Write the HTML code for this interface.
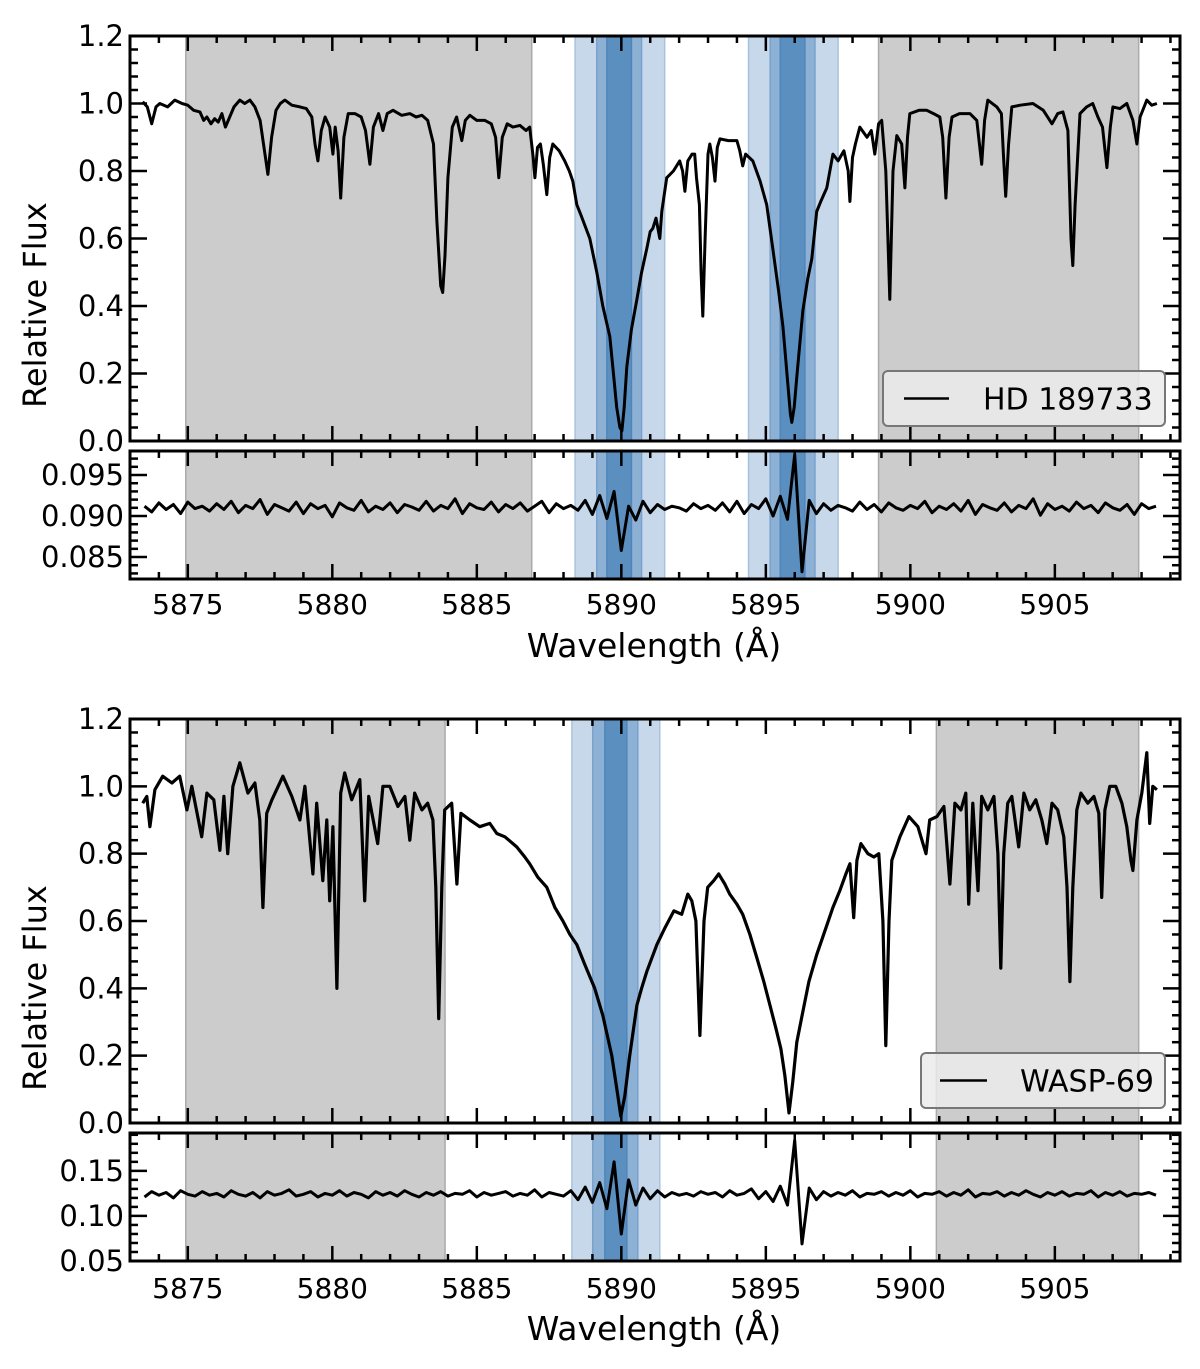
<!DOCTYPE html>
<html><head><meta charset="utf-8"><style>
html,body{margin:0;padding:0;background:#fff;}
svg{display:block;font-family:"DejaVu Sans","Liberation Sans",sans-serif;}
</style></head><body>
<svg id="fig" width="1200" height="1369" viewBox="0 0 1200 1369" xmlns="http://www.w3.org/2000/svg"></svg>
<script>
// ---- data ----
const xTicks = [5875, 5880, 5885, 5890, 5895, 5900, 5905];
const fluxTicks = [0.0, 0.2, 0.4, 0.6, 0.8, 1.0, 1.2];
const res1Ticks = [0.085, 0.090, 0.095];
const res2Ticks = [0.05, 0.10, 0.15];
const grey1 = [[5874.93, 5886.9], [5898.9, 5907.9]];
const grey2 = [[5874.93, 5883.9], [5900.9, 5907.9]];
const blueLight1 = [[5888.4, 5891.5], [5894.4, 5897.5]];
const blueMid1 = [[5889.15, 5890.7], [5895.15, 5896.7]];
const blueDark1 = [[5889.5, 5890.35], [5895.5, 5896.35]];
const blueLight2 = [[5888.29, 5891.33]];
const blueMid2 = [[5889.01, 5890.57]];
const blueDark2 = [[5889.43, 5890.19]];

const wl1 = [5873.44,5873.60,5873.75,5873.90,5874.03,5874.30,5874.55,5874.80,5875.00,5875.20,5875.42,5875.55,5875.66,5875.80,5875.93,5876.05,5876.18,5876.30,5876.45,5876.60,5876.80,5876.97,5877.15,5877.32,5877.50,5877.62,5877.77,5877.90,5878.05,5878.20,5878.36,5878.60,5878.88,5879.10,5879.29,5879.40,5879.50,5879.62,5879.75,5879.91,5880.02,5880.10,5880.20,5880.29,5880.40,5880.55,5880.78,5881.00,5881.15,5881.30,5881.42,5881.60,5881.75,5881.90,5882.10,5882.40,5882.68,5882.90,5883.10,5883.30,5883.50,5883.62,5883.75,5883.82,5883.90,5884.00,5884.15,5884.30,5884.48,5884.60,5884.76,5885.00,5885.28,5885.50,5885.65,5885.76,5885.88,5886.05,5886.25,5886.49,5886.70,5886.83,5886.95,5887.01,5887.10,5887.20,5887.30,5887.42,5887.52,5887.63,5887.85,5888.04,5888.20,5888.32,5888.46,5888.60,5888.91,5889.15,5889.36,5889.60,5889.75,5889.84,5889.95,5890.02,5890.10,5890.19,5890.35,5890.54,5890.70,5890.88,5891.00,5891.09,5891.20,5891.33,5891.40,5891.57,5891.80,5892.02,5892.12,5892.20,5892.30,5892.45,5892.54,5892.60,5892.70,5892.76,5892.82,5892.90,5893.00,5893.06,5893.15,5893.24,5893.32,5893.41,5893.70,5894.00,5894.10,5894.20,5894.30,5894.55,5894.80,5895.03,5895.24,5895.45,5895.59,5895.76,5895.85,5895.90,5895.98,5896.07,5896.28,5896.45,5896.59,5896.76,5896.90,5897.11,5897.32,5897.50,5897.70,5897.85,5897.91,5898.00,5898.10,5898.25,5898.50,5898.65,5898.77,5898.90,5899.01,5899.15,5899.29,5899.40,5899.53,5899.70,5899.81,5899.90,5899.98,5900.30,5900.57,5900.80,5901.02,5901.12,5901.23,5901.34,5901.44,5901.70,5902.06,5902.30,5902.47,5902.57,5902.68,5902.99,5903.15,5903.22,5903.30,5903.40,5903.51,5903.80,5904.24,5904.60,5904.90,5905.10,5905.28,5905.45,5905.56,5905.62,5905.70,5905.87,5906.10,5906.31,5906.49,5906.65,5906.80,5906.92,5907.01,5907.25,5907.49,5907.70,5907.84,5907.95,5908.18,5908.35,5908.53];
const fl1 = [1.005,0.99,0.94,0.99,1.00,0.99,1.01,1.00,0.995,0.98,0.975,0.95,0.96,0.94,0.955,0.945,0.97,0.93,0.96,0.99,1.01,1.00,1.01,0.99,0.95,0.88,0.79,0.90,0.98,1.00,1.01,0.995,0.99,0.985,0.96,0.88,0.83,0.92,0.96,0.93,0.85,0.93,0.86,0.72,0.90,0.97,0.97,0.96,0.92,0.82,0.93,0.97,0.92,0.97,0.98,0.965,0.97,0.96,0.965,0.95,0.88,0.65,0.46,0.44,0.55,0.78,0.93,0.96,0.89,0.95,0.965,0.95,0.95,0.94,0.90,0.78,0.90,0.94,0.93,0.935,0.92,0.93,0.84,0.78,0.87,0.88,0.82,0.73,0.84,0.88,0.86,0.83,0.80,0.77,0.70,0.67,0.60,0.50,0.40,0.31,0.18,0.10,0.04,0.03,0.10,0.22,0.33,0.42,0.50,0.57,0.62,0.63,0.66,0.60,0.68,0.78,0.80,0.83,0.80,0.74,0.83,0.85,0.85,0.78,0.70,0.50,0.37,0.60,0.85,0.88,0.84,0.77,0.87,0.895,0.89,0.89,0.86,0.815,0.85,0.83,0.77,0.70,0.57,0.44,0.34,0.17,0.08,0.055,0.10,0.19,0.385,0.48,0.54,0.68,0.71,0.75,0.85,0.83,0.86,0.80,0.71,0.84,0.88,0.93,0.90,0.92,0.85,0.94,0.95,0.80,0.42,0.80,0.905,0.88,0.75,0.90,0.97,0.98,0.98,0.97,0.96,0.90,0.72,0.90,0.96,0.97,0.97,0.95,0.82,0.95,1.01,0.99,0.97,0.85,0.725,0.88,0.99,0.995,1.00,0.98,0.94,0.97,0.975,0.92,0.60,0.52,0.70,0.97,0.99,1.00,0.96,0.93,0.81,0.93,0.99,0.985,1.00,0.95,0.88,0.96,1.01,0.995,1.00];

const wl2 = [5873.44,5873.58,5873.69,5873.86,5874.13,5874.45,5874.72,5874.97,5875.14,5875.48,5875.66,5875.90,5876.11,5876.25,5876.38,5876.56,5876.80,5877.08,5877.32,5877.49,5877.60,5877.73,5877.91,5878.29,5878.60,5878.88,5879.05,5879.33,5879.46,5879.67,5879.81,5879.91,5880.02,5880.16,5880.29,5880.43,5880.67,5880.95,5881.12,5881.26,5881.57,5881.75,5881.99,5882.27,5882.51,5882.68,5882.85,5883.10,5883.30,5883.48,5883.58,5883.68,5883.79,5883.89,5884.13,5884.31,5884.45,5884.76,5885.10,5885.45,5885.69,5885.97,5886.38,5886.66,5886.83,5887.11,5887.42,5887.70,5887.98,5888.22,5888.46,5888.74,5889.08,5889.36,5889.67,5889.88,5889.98,5890.12,5890.29,5890.54,5890.70,5890.88,5891.23,5891.51,5891.82,5892.09,5892.30,5892.44,5892.58,5892.72,5892.86,5892.99,5893.20,5893.37,5893.58,5893.75,5894.00,5894.20,5894.45,5894.69,5894.93,5895.17,5895.35,5895.52,5895.66,5895.80,5895.93,5896.07,5896.28,5896.49,5896.76,5897.08,5897.32,5897.56,5897.77,5897.91,5898.04,5898.15,5898.29,5898.53,5898.74,5898.91,5899.05,5899.15,5899.26,5899.36,5899.64,5899.95,5900.26,5900.54,5900.67,5900.92,5901.16,5901.37,5901.54,5901.75,5901.92,5902.02,5902.16,5902.34,5902.47,5902.68,5902.89,5903.03,5903.13,5903.23,5903.37,5903.51,5903.75,5903.93,5904.13,5904.34,5904.55,5904.72,5904.90,5905.10,5905.31,5905.42,5905.52,5905.62,5905.76,5905.90,5906.14,5906.35,5906.52,5906.62,5906.73,5906.90,5907.11,5907.32,5907.49,5907.63,5907.70,5907.84,5908.01,5908.18,5908.28,5908.39,5908.53];
const fl2 = [0.95,0.97,0.88,0.99,1.03,1.01,1.03,0.93,1.00,0.85,0.98,0.96,0.81,0.97,0.80,1.00,1.07,0.98,1.01,0.90,0.64,0.92,0.96,1.03,0.97,0.90,1.00,0.74,0.95,0.72,0.90,0.66,0.88,0.40,0.98,1.04,0.96,1.02,0.66,0.97,0.83,1.00,1.00,0.94,0.97,0.84,0.98,0.93,0.95,0.90,0.70,0.31,0.70,0.93,0.95,0.71,0.92,0.90,0.88,0.89,0.86,0.85,0.82,0.79,0.77,0.73,0.70,0.64,0.60,0.56,0.53,0.47,0.40,0.32,0.20,0.08,0.02,0.08,0.20,0.35,0.40,0.45,0.53,0.58,0.63,0.62,0.68,0.66,0.60,0.26,0.60,0.70,0.72,0.74,0.71,0.68,0.65,0.62,0.56,0.49,0.42,0.34,0.28,0.22,0.14,0.03,0.12,0.24,0.33,0.42,0.50,0.58,0.64,0.69,0.74,0.77,0.61,0.78,0.83,0.80,0.79,0.80,0.60,0.23,0.60,0.78,0.85,0.91,0.88,0.80,0.90,0.91,0.94,0.71,0.95,0.93,0.98,0.65,0.95,0.69,0.97,0.93,0.97,0.80,0.46,0.80,0.95,0.97,0.82,0.98,0.93,0.96,0.90,0.83,0.95,0.93,0.85,0.70,0.42,0.70,0.93,0.98,0.95,0.97,0.92,0.67,0.93,1.00,1.00,0.95,0.88,0.78,0.75,0.90,0.98,1.10,0.89,1.00,0.99];

const resStart = 5873.5, resStep = 0.25;
const res1 = [.0912,.0905,.0916,.0908,.0914,.0903,.0917,.0909,.0912,.0906,.0915,.0908,.0918,.0904,.0913,.0909,.0920,.0902,.0914,.0910,.0906,.0917,.0903,.0915,.0909,.0913,.0899,.0916,.0910,.0907,.0919,.0905,.0912,.0908,.0916,.0904,.0914,.0911,.0907,.0918,.0906,.0913,.0909,.0921,.0903,.0915,.0910,.0908,.0917,.0905,.0914,.0909,.0916,.0906,.0912,.0918,.0904,.0915,.0909,.0913,.0907,.0919,.0902,.0925,.0897,.0930,.0858,.0912,.0895,.0918,.0904,.0914,.0908,.0912,.0910,.0906,.0915,.0909,.0913,.0907,.0916,.0905,.0918,.0903,.0914,.0909,.0921,.0900,.0924,.0896,.0975,.0832,.0919,.0903,.0915,.0907,.0913,.0910,.0906,.0917,.0908,.0914,.0905,.0916,.0910,.0907,.0913,.0909,.0918,.0904,.0912,.0908,.0915,.0906,.0919,.0902,.0914,.0910,.0907,.0916,.0905,.0913,.0909,.0921,.0901,.0915,.0908,.0912,.0906,.0917,.0909,.0913,.0904,.0916,.0910,.0907,.0914,.0902,.0915,.0909,.0912];
const res2 = [.121,.127,.123,.126,.120,.128,.124,.122,.127,.123,.125,.121,.128,.124,.122,.126,.120,.127,.123,.125,.129,.122,.124,.127,.121,.125,.123,.128,.122,.126,.124,.120,.127,.123,.126,.122,.128,.124,.121,.126,.123,.127,.122,.125,.124,.128,.121,.126,.123,.125,.127,.122,.125,.123,.129,.121,.126,.124,.122,.128,.118,.132,.115,.137,.108,.160,.080,.140,.112,.131,.119,.128,.121,.126,.123,.125,.122,.127,.124,.126,.121,.128,.123,.125,.130,.119,.127,.116,.133,.112,.184,.069,.131,.118,.127,.122,.126,.123,.128,.121,.125,.124,.127,.122,.126,.123,.128,.121,.125,.124,.127,.122,.126,.123,.129,.121,.125,.124,.127,.122,.126,.123,.128,.124,.121,.126,.123,.127,.122,.125,.124,.128,.121,.126,.123,.127,.122,.125,.124,.126,.123];

// ---- drawing ----
const NS = "http://www.w3.org/2000/svg";
const svg = document.getElementById('fig');
const XL = 130, XR = 1180, W0 = 5873.0, W1 = 5909.33;
function sx(w){ return XL + (w - W0) / (W1 - W0) * (XR - XL); }
function mk(tag, attrs, parent){
  const e = document.createElementNS(NS, tag);
  for (const k in attrs) e.setAttribute(k, attrs[k]);
  (parent || svg).appendChild(e);
  return e;
}
function makeY(y0, y1, lo, hi){ return v => y1 - (v - lo) / (hi - lo) * (y1 - y0); }

function bands(g, list, fill, stroke, y0, y1, name){
  list.forEach(b => {
    const r = mk('rect', {x: sx(b[0]), y: y0, width: sx(b[1]) - sx(b[0]), height: y1 - y0, fill: fill, stroke: stroke, 'stroke-width': 1.5}, g);
    
    
  });
}

function panel(opt){
  const g = mk('g', {});
  
  
  const y = makeY(opt.y0, opt.y1, opt.lo, opt.hi);
  bands(g, opt.grey, '#cccccc', '#aaaaaa', opt.y0, opt.y1, 'excluded-region');
  bands(g, opt.bl, '#c6d8ea', '#a9c3dd', opt.y0, opt.y1, 'passband-wide');
  bands(g, opt.bm, '#8db1d5', '#7aa2cb', opt.y0, opt.y1, 'passband-medium');
  bands(g, opt.bd, '#5a8fc0', '#4f86b9', opt.y0, opt.y1, 'passband-narrow');
  let d = '';
  for (let i = 0; i < opt.vals.length; i++){
    const w = opt.wl ? opt.wl[i] : resStart + resStep * i;
    d += (i ? 'L' : 'M') + sx(w).toFixed(1) + ' ' + y(opt.vals[i]).toFixed(1);
  }
  const clipId = 'c' + opt.name;
  const cp = mk('clipPath', {id: clipId}, g);
  mk('rect', {x: XL, y: opt.y0, width: XR - XL, height: opt.y1 - opt.y0}, cp);
  const p = mk('path', {d: d, fill: 'none', stroke: '#000', 'stroke-width': opt.sw, 'stroke-linejoin': 'round', 'clip-path': 'url(#' + clipId + ')'}, g);
  
  
  for (let w = 5874; w <= 5909; w++){
    const major = (w % 5 === 0);
    const L = major ? 15 : 7;
    const X = sx(w);
    mk('line', {x1: X, x2: X, y1: opt.y1, y2: opt.y1 - L, stroke: '#000', 'stroke-width': 2.5}, g);
    mk('line', {x1: X, x2: X, y1: opt.y0, y2: opt.y0 + L, stroke: '#000', 'stroke-width': 2.5}, g);
  }
  const nMin = Math.floor(opt.hi / opt.minor + 1e-6);
  for (let k = Math.ceil(opt.lo / opt.minor - 1e-6); k <= nMin; k++){
    const v = k * opt.minor;
    const Y = y(v);
    if (Y < opt.y0 + 1 || Y > opt.y1 - 1) continue;
    const major = opt.ticks.some(t => Math.abs(t - v) < opt.minor / 4);
    const L = major ? 17 : 8;
    mk('line', {x1: XL, x2: XL + L, y1: Y, y2: Y, stroke: '#000', 'stroke-width': 2.5}, g);
    mk('line', {x1: XR, x2: XR - L, y1: Y, y2: Y, stroke: '#000', 'stroke-width': 2.5}, g);
  }
  opt.ticks.forEach(t => {
    const tx = mk('text', {x: 124, y: y(t) + 10, 'text-anchor': 'end', 'font-size': 29, fill: '#000'}, g);
    tx.textContent = opt.fmt(t);
    
    
  });
  const fr = mk('rect', {x: XL, y: opt.y0, width: XR - XL, height: opt.y1 - opt.y0, fill: 'none', stroke: '#000', 'stroke-width': 3}, g);
  
  
  return g;
}

function xLabels(yBase, titleY){
  xTicks.forEach(t => {
    const tx = mk('text', {x: sx(t), y: yBase, 'text-anchor': 'middle', 'font-size': 28});
    tx.textContent = String(t);
    
    
  });
  const tt = mk('text', {x: 654, y: titleY, 'text-anchor': 'middle', 'font-size': 33});
  tt.textContent = 'Wavelength (Å)';
  
  
}
function yTitle(cy){
  const tt = mk('text', {x: 0, y: 0, 'text-anchor': 'middle', 'font-size': 32, transform: 'translate(46,' + cy + ') rotate(-90)'});
  tt.textContent = 'Relative Flux';
  
  
}
function legend(x0, y0, x1, y1, lx0, lx1, tx, label){
  const g = mk('g', {});
  
  
  mk('rect', {x: x0, y: y0, width: x1 - x0, height: y1 - y0, rx: 5, fill: '#ebebeb', 'fill-opacity': 0.85, stroke: '#777', 'stroke-width': 2}, g);
  const ym = (y0 + y1) / 2;
  mk('line', {x1: lx0, x2: lx1, y1: ym, y2: ym, stroke: '#000', 'stroke-width': 2.5}, g);
  const t = mk('text', {x: tx, y: ym + 11, 'font-size': 30}, g);
  t.textContent = label;
  
  
}

const f1 = v => v.toFixed(1), f3 = v => v.toFixed(3), f2 = v => v.toFixed(2);

panel({name: 'hd189733-flux-panel', seriesName: 'hd189733-spectrum', y0: 36, y1: 441, lo: 0, hi: 1.2, minor: 0.04, ticks: fluxTicks, fmt: f1, wl: wl1, vals: fl1, sw: 3, grey: grey1, bl: blueLight1, bm: blueMid1, bd: blueDark1});
panel({name: 'hd189733-residual-panel', seriesName: 'hd189733-residuals', y0: 451, y1: 579, lo: 0.08232, hi: 0.09793, minor: 0.001, ticks: res1Ticks, fmt: f3, vals: res1, sw: 3, grey: grey1, bl: blueLight1, bm: blueMid1, bd: blueDark1});
panel({name: 'wasp69-flux-panel', seriesName: 'wasp69-spectrum', y0: 719, y1: 1123, lo: 0, hi: 1.2, minor: 0.04, ticks: fluxTicks, fmt: f1, wl: wl2, vals: fl2, sw: 3.2, grey: grey2, bl: blueLight2, bm: blueMid2, bd: blueDark2});
panel({name: 'wasp69-residual-panel', seriesName: 'wasp69-residuals', y0: 1133, y1: 1261, lo: 0.05, hi: 0.192, minor: 0.01, ticks: res2Ticks, fmt: f2, vals: res2, sw: 3, grey: grey2, bl: blueLight2, bm: blueMid2, bd: blueDark2});

xLabels(614, 657);
xLabels(1298, 1340);
yTitle(305);
yTitle(988);
legend(883, 371, 1165, 426, 904, 949, 983, 'HD 189733');
legend(921, 1053, 1165, 1108, 940, 987, 1020, 'WASP-69');
</script>
</body></html>
